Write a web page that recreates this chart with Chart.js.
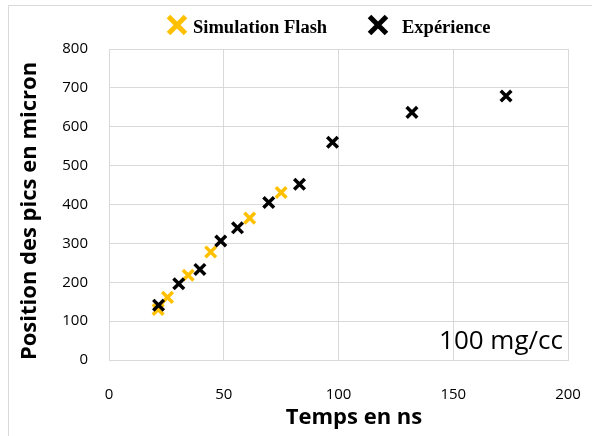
<!DOCTYPE html>
<html lang="fr">
<head>
    <meta charset="UTF-8">
    <title>Position des pics</title>
    <script src="https://cdn.jsdelivr.net/npm/chart.js"></script>
    <style>
        html, body { margin: 0; padding: 0; background: #fff; }
        #wrap { width: 592px; height: 436px; }
    </style>
</head>
<body>
<div id="wrap"><canvas id="chart" width="592" height="436"></canvas></div>
<script>
    // values
    const seriesNames = ['Simulation Flash', 'Expérience'];
    const seriesColors = ['#ffc000', '#000000'];
    const simX = [21.4, 25.5, 34.5, 44.3, 61.3, 75];
    const simY = [130, 161, 218, 278, 365, 431];
    const expX = [21.6, 30.4, 39.6, 48.7, 56, 69.6, 83, 97.4, 132, 173];
    const expY = [141, 196, 233, 306, 340, 405, 452, 560, 637, 679];
    const xTicks = [0, 50, 100, 150, 200];
    const yTicks = [0, 100, 200, 300, 400, 500, 600, 700, 800];
    const xTitle = 'Temps en ns';
    const yTitle = 'Position des pics en micron';
    const note = '100 mg/cc';

    const sans = "'Open Sans', sans-serif";

    function toPoints(xs, ys) {
        return xs.map((x, i) => ({ x: x, y: ys[i] }));
    }

    // frame, legend, axis titles and the note
    const decor = {
        id: 'decor',
        beforeDraw(chart) {
            const ctx = chart.ctx;
            ctx.save();
            ctx.fillStyle = '#fff';
            ctx.fillRect(0, 0, chart.width, chart.height);
            ctx.strokeStyle = '#d9d9d9';
            ctx.lineWidth = 1;
            ctx.strokeRect(8.5, 5.5, 700, 700);
            ctx.restore();
        },
        afterDraw(chart) {
            const ctx = chart.ctx;
            const area = chart.chartArea;
            ctx.save();

            // legend
            const items = [{ mx: 177, tx: 193 }, { mx: 378, tx: 402 }];
            items.forEach((it, i) => {
                ctx.strokeStyle = seriesColors[i];
                ctx.lineWidth = 5;
                ctx.beginPath();
                ctx.moveTo(it.mx - 8.5, 16.5); ctx.lineTo(it.mx + 8.5, 33.5);
                ctx.moveTo(it.mx + 8.5, 16.5); ctx.lineTo(it.mx - 8.5, 33.5);
                ctx.stroke();
                ctx.fillStyle = '#000';
                ctx.font = "bold 18.5px 'Liberation Serif', serif";
                ctx.textBaseline = 'alphabetic';
                ctx.textAlign = 'left';
                ctx.fillText(seriesNames[i], it.tx, 33);
            });

            // axis titles
            ctx.fillStyle = '#000';
            ctx.font = 'bold 22px ' + sans;
            ctx.textAlign = 'center';
            ctx.textBaseline = 'middle';
            ctx.fillText(xTitle, 354, 418);

            ctx.translate(30, 211);
            ctx.rotate(-Math.PI / 2);
            ctx.fillText(yTitle, 0, 0);
            ctx.setTransform(1, 0, 0, 1, 0, 0);

            // note in the corner of the plot
            ctx.font = '26px ' + sans;
            ctx.textAlign = 'right';
            ctx.textBaseline = 'alphabetic';
            ctx.fillText(note, area.right - 5, 349);
            ctx.restore();
        }
    };

    const markerStyle = {
        pointStyle: 'crossRot',
        pointRadius: 7.5,
        pointHoverRadius: 7.5,
        pointBorderWidth: 3.5,
        showLine: false
    };

    new Chart(document.getElementById('chart'), {
        type: 'scatter',
        data: {
            datasets: [
                Object.assign({
                    label: seriesNames[0],
                    data: toPoints(simX, simY),
                    borderColor: seriesColors[0],
                    backgroundColor: seriesColors[0],
                    order: 1
                }, markerStyle),
                Object.assign({
                    label: seriesNames[1],
                    data: toPoints(expX, expY),
                    borderColor: seriesColors[1],
                    backgroundColor: seriesColors[1],
                    order: 0
                }, markerStyle)
            ]
        },
        options: {
            responsive: false,
            animation: false,
            devicePixelRatio: 1,
            layout: { autoPadding: false, padding: { top: 49, right: 24, bottom: 0, left: 10 } },
            plugins: {
                legend: { display: false },
                tooltip: { enabled: false }
            },
            scales: {
                x: {
                    type: 'linear',
                    min: 0, max: 200,
                    afterBuildTicks: s => { s.ticks = xTicks.map(v => ({ value: v })); },
                    afterFit: s => { s.height = 76; },
                    // invisible tick marks push the labels down (tick padding would also eat the right margin)
                    grid: { color: '#d9d9d9', lineWidth: 1, drawTicks: true, tickLength: 24, tickColor: 'rgba(0,0,0,0)' },
                    border: { color: '#d9d9d9' },
                    ticks: { padding: 2, color: '#000', font: { family: sans, size: 15 } }
                },
                y: {
                    type: 'linear',
                    min: 0, max: 800,
                    afterBuildTicks: s => { s.ticks = yTicks.map(v => ({ value: v })); },
                    afterFit: s => { s.width = 99; },
                    grid: { color: '#d9d9d9', lineWidth: 1, drawTicks: false },
                    border: { color: '#d9d9d9' },
                    ticks: { padding: 21, color: '#000', font: { family: sans, size: 15 } }
                }
            }
        },
        plugins: [decor]
    });
</script>
</body>
</html>
